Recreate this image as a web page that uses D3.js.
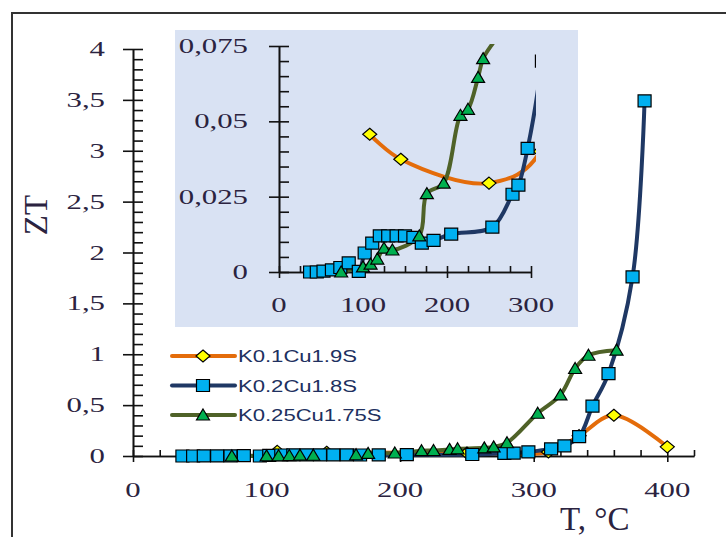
<!DOCTYPE html>
<html>
<head>
<meta charset="utf-8">
<script src="https://cdn.jsdelivr.net/npm/d3@7"></script>
<style>
  body { margin: 0; background: #fff; }
</style>
</head>
<body>
<div id="container"></div>
<script>
const seriesNames = ["K0.1Cu1.9S", "K0.2Cu1.8S", "K0.25Cu1.75S"]

const tempOrange = [108, 145, 250, 311, 334, 360, 400]
const ztOrange = [0.0457, 0.0374, 0.0295, 0.04, 0.2, 0.40, 0.09]

const tempBlue = [37, 45, 53, 63, 73, 83, 95, 102, 111, 120, 130, 140, 150, 160, 170, 184, 205, 254, 278, 285, 296, 313, 323, 334, 344, 356, 374, 383]
const ztBlue = [0, 0, 0.0003, 0.0007, 0.0015, 0.003, 0.0002, 0.0063, 0.0096, 0.012, 0.012, 0.012, 0.012, 0.0115, 0.0096, 0.0105, 0.0126, 0.0149, 0.0258, 0.0288, 0.041, 0.07, 0.1, 0.19, 0.49, 0.81, 1.76, 3.49]

const tempGreen = [74, 100, 109, 117, 125, 135, 167, 176, 196, 216, 225, 237, 243, 263, 270, 280, 303, 320, 331, 341, 362]
const ztGreen = [0, 0.0017, 0.0026, 0.0043, 0.0079, 0.0073, 0.012, 0.026, 0.0295, 0.052, 0.054, 0.0646, 0.0708, 0.08, 0.09, 0.13, 0.42, 0.6, 0.86, 0.99, 1.04]

const mainXTicks = [0, 100, 200, 300, 400]
const mainYTicks = [0, 0.5, 1, 1.5, 2, 2.5, 3, 3.5, 4]
const insetXTicks = [0, 100, 200, 300]
const insetYTicks = [0, 0.025, 0.05, 0.075]

const width = 726
const height = 537

const series = [
    { name: seriesNames[0], line: "#e46c0a", fill: "#ffff00", shape: "diamond",
      points: tempOrange.map((t, i) => [t, ztOrange[i]]) },
    { name: seriesNames[1], line: "#1f3864", fill: "#00b0f0", shape: "square",
      points: tempBlue.map((t, i) => [t, ztBlue[i]]) },
    { name: seriesNames[2], line: "#4f6228", fill: "#00b050", shape: "triangle",
      points: tempGreen.map((t, i) => [t, ztGreen[i]]) }
]

const shapes = {
    diamond: "M0,-6L7,0L0,6L-7,0Z",
    square: "M-6.5,-6L6.5,-6L6.5,6L-6.5,6Z",
    triangle: "M0,-6L6.5,5L-6.5,5Z"
}

const serif = "'Liberation Serif', 'Times New Roman', serif"
const labelColor = "#2b2340"

const svg = d3.create("svg")
    .attr("width", width)
    .attr("height", height)

// outer frame, cut by the picture edge
svg.append("path")
    .attr("d", `M12,${height + 5}L12,13L${width + 5},13`)
    .attr("fill", "none")
    .attr("stroke", "#333")
    .attr("stroke-width", 2)

// text is wider than tall in the picture
function stretchedText(g, x, y, str, anchor, size, sx, family, color) {
    return g.append("text")
        .attr("transform", `translate(${x},${y}) scale(${sx},1)`)
        .attr("text-anchor", anchor)
        .attr("font-family", family)
        .attr("font-size", size)
        .attr("fill", color)
        .text(str)
}

const fmt = v => String(v).replace(".", ",")

function drawAxes(g, x, y, xTicks, yTicks, xMinor, yMinor, xLabelY, yLabelX) {
    const x0 = x.range()[0]
    const y0 = y.range()[0]

    g.append("g")
        .attr("transform", `translate(${x0},0)`)
        .call(d3.axisRight(y).tickValues(yMinor).tickSize(10).tickSizeOuter(0).tickFormat(""))
    g.append("g")
        .attr("transform", `translate(${x0},0)`)
        .call(d3.axisLeft(y).tickValues(yTicks).tickSize(10).tickSizeOuter(0).tickFormat(""))
    g.append("g")
        .attr("transform", `translate(0,${y0})`)
        .call(d3.axisTop(x).tickValues(xMinor).tickSize(6).tickSizeOuter(0).tickFormat(""))
    g.append("g")
        .attr("transform", `translate(0,${y0})`)
        .call(d3.axisBottom(x).tickValues(xTicks).tickSize(6).tickSizeOuter(0).tickFormat(""))

    g.selectAll(".domain, .tick line")
        .attr("stroke", "#111")
        .attr("stroke-width", 1.6)

    yTicks.forEach(v => stretchedText(g, yLabelX, y(v) + 7, fmt(v), "end", 22, 1.4, serif, labelColor))
    xTicks.forEach(v => stretchedText(g, x(v), xLabelY, fmt(v), "middle", 22, 1.4, serif, labelColor))
}

function drawSeries(g, x, y) {
    const line = d3.line()
        .x(d => x(d[0]))
        .y(d => y(d[1]))
        .curve(d3.curveCatmullRom.alpha(0.5))

    series.forEach(s => {
        g.append("path")
            .attr("d", line(s.points))
            .attr("fill", "none")
            .attr("stroke", s.line)
            .attr("stroke-width", 4)
            .attr("stroke-linejoin", "round")
    })
    series.forEach(s => {
        g.selectAll(null)
            .data(s.points)
            .enter()
            .append("path")
            .attr("d", shapes[s.shape])
            .attr("transform", d => `translate(${x(d[0])},${y(d[1])})`)
            .attr("fill", s.fill)
            .attr("stroke", "#000")
            .attr("stroke-width", 1.2)
    })
}

// main chart
const x = d3.scaleLinear([0, 420], [133, 694])
const y = d3.scaleLinear([0, 4], [456, 49])

const mainG = svg.append("g")
drawAxes(mainG, x, y, mainXTicks, mainYTicks, d3.range(0, 421, 20), d3.range(0, 4.001, 0.1), 497, 105)
drawSeries(mainG, x, y)

svg.append("text")
    .attr("transform", "translate(47,215) rotate(-90)")
    .attr("text-anchor", "middle")
    .attr("font-family", serif)
    .attr("font-size", 33)
    .attr("fill", labelColor)
    .text("ZT")

svg.append("text")
    .attr("x", 560)
    .attr("y", 530)
    .attr("font-family", serif)
    .attr("font-size", 33)
    .attr("fill", labelColor)
    .text("T, °C")

// inset
svg.append("rect")
    .attr("x", 175)
    .attr("y", 30)
    .attr("width", 403)
    .attr("height", 297)
    .attr("fill", "#d9e2f3")

const ix = d3.scaleLinear([0, 300], [279, 531])
const iy = d3.scaleLinear([0, 0.075], [272, 46])

svg.append("clipPath")
    .attr("id", "insetClip")
    .append("rect")
    .attr("x", 270)
    .attr("y", 44)
    .attr("width", 266)
    .attr("height", 250)

const insetG = svg.append("g")
drawAxes(insetG, ix, iy, insetXTicks, insetYTicks, d3.range(0, 301, 25), d3.range(0, 0.0751, 0.005), 312, 248)
drawSeries(insetG.append("g").attr("clip-path", "url(#insetClip)"), ix, iy)

// legend
const legend = svg.append("g")
series.forEach((s, i) => {
    const ly = 356 + i * 29.5
    legend.append("line")
        .attr("x1", 172).attr("x2", 235)
        .attr("y1", ly).attr("y2", ly)
        .attr("stroke", s.line)
        .attr("stroke-width", 4)
        .attr("stroke-linecap", "round")
    legend.append("path")
        .attr("d", shapes[s.shape])
        .attr("transform", `translate(203,${ly})`)
        .attr("fill", s.fill)
        .attr("stroke", "#000")
        .attr("stroke-width", 1.2)
    stretchedText(legend, 238, ly + 6, s.name, "start", 16, 1.38, "'Liberation Sans', Arial, sans-serif", "#203060")
})

document.querySelector("#container").appendChild(svg.node())
</script>
</body>
</html>
